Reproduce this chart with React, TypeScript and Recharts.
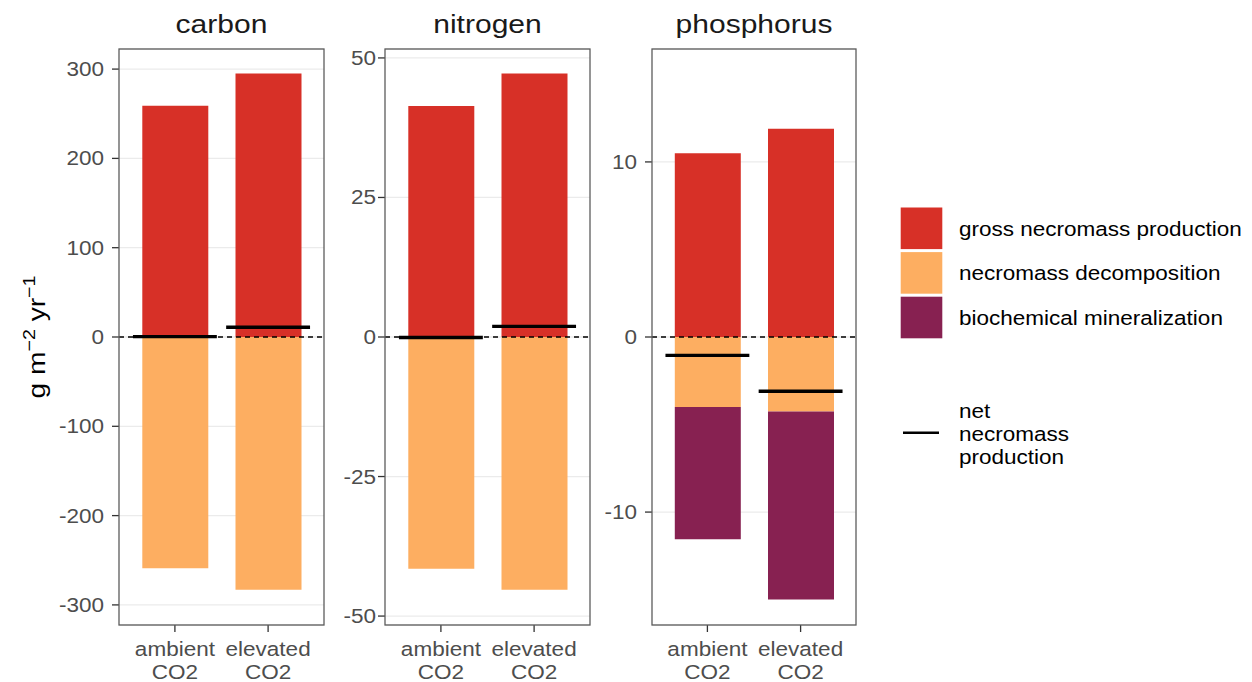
import { Bar, CartesianGrid, ComposedChart, ReferenceLine, Scatter, XAxis, YAxis } from 'recharts'

// values (g m-2 yr-1)
const conditions = ['ambient CO2', 'elevated CO2']
const elements = ['carbon', 'nitrogen', 'phosphorus']
const fluxNames = ['gross necromass production', 'necromass decomposition', 'biochemical mineralization']
const netLabel = ['net', 'necromass', 'production']

const carbonGross = [259, 295]
const carbonDecomposition = [-259, -283]
const carbonMineralization = [0, 0]
const carbonNet = [0.4, 11]

const nitrogenGross = [41.4, 47.2]
const nitrogenDecomposition = [-41.5, -45.3]
const nitrogenMineralization = [0, 0]
const nitrogenNet = [-0.1, 1.9]

const phosphorusGross = [10.5, 11.9]
const phosphorusDecomposition = [-4.0, -4.25]
const phosphorusMineralization = [-7.55, -10.75]
const phosphorusNet = [-1.05, -3.1]

const carbonTicks = [-300, -200, -100, 0, 100, 200, 300]
const nitrogenTicks = [-50, -25, 0, 25, 50]
const phosphorusTicks = [-10, 0, 10]
const carbonLimits = [-322.5, 322.5]
const nitrogenLimits = [-51.6, 51.6]
const phosphorusLimits = [-16.45, 16.45]

const fluxColors = ['#d73027', '#fdae61', '#872151']

const font = '"Liberation Sans", Arial, sans-serif'
const stretch = 1.155
const plotTop = 49
const plotHeight = 576
const axisWidth = 66
const band = 93.2

type Row = { condition: string; gross: number; decomposition: number; mineralization: number; net: number }

const toRows = (gross: number[], decomposition: number[], mineralization: number[], net: number[]): Row[] =>
  conditions.map((condition, i) => ({ condition, gross: gross[i], decomposition: decomposition[i], mineralization: mineralization[i], net: net[i] }))

const panels = [
  { name: elements[0], rows: toRows(carbonGross, carbonDecomposition, carbonMineralization, carbonNet), ticks: carbonTicks, limits: carbonLimits, left: 119, width: 205, gap: 8 },
  { name: elements[1], rows: toRows(nitrogenGross, nitrogenDecomposition, nitrogenMineralization, nitrogenNet), ticks: nitrogenTicks, limits: nitrogenLimits, left: 385, width: 205, gap: 2 },
  { name: elements[2], rows: toRows(phosphorusGross, phosphorusDecomposition, phosphorusMineralization, phosphorusNet), ticks: phosphorusTicks, limits: phosphorusLimits, left: 652, width: 204, gap: 8 },
]

function ValueTick({ x, y, payload }: { x?: number; y?: number; payload?: { value: number } }) {
  return <g transform={`translate(${x},${y}) scale(${stretch},1)`}>
    <text textAnchor="end" dy="0.36em" fill="#4d4d4d" fontSize={19.5} fontFamily={font}>{payload?.value}</text>
  </g>
}

function ConditionTick({ x, y, payload }: { x?: number; y?: number; payload?: { value: string } }) {
  const [first, second] = String(payload?.value ?? '').split(' ')
  return <g transform={`translate(${x},${y}) scale(${stretch},1)`}>
    <text textAnchor="middle" fill="#4d4d4d" fontSize={19.5} fontFamily={font}>
      <tspan x={0} y={22.5}>{first}</tspan>
      <tspan x={0} y={44.8}>{second}</tspan>
    </text>
  </g>
}

function NetMark({ cx, cy }: { cx?: number; cy?: number }) {
  if (cx == null || cy == null) return null
  const half = band * 0.45
  return <line x1={cx - half} x2={cx + half} y1={cy} y2={cy} stroke="#000" strokeWidth={3.4} />
}

function Panel({ rows, ticks, limits, left, width, gap }: typeof panels[number]) {
  const pad = (width - 2 * band) / 2
  return <div style={{ position: 'absolute', left: left - axisWidth, top: 0 }}>
    <ComposedChart width={axisWidth + width} height={682} data={rows} margin={{ top: plotTop, right: 0, bottom: 0, left: 0 }} stackOffset="sign">
      <CartesianGrid vertical={false} stroke="#ebebeb" strokeWidth={1.3} />
      <XAxis dataKey="condition" height={682 - plotTop - plotHeight} padding={{ left: pad, right: pad }} axisLine={false}
        tickSize={7} tickMargin={2} tickLine={{ stroke: '#333', strokeWidth: 1.3 }} tick={<ConditionTick />} interval={0} />
      <YAxis type="number" width={axisWidth} domain={limits} ticks={ticks} allowDataOverflow axisLine={false}
        tickSize={7} tickMargin={gap} tickLine={{ stroke: '#333', strokeWidth: 1.3 }} tick={<ValueTick />} />
      <Bar dataKey="gross" stackId="flux" fill={fluxColors[0]} barSize={66} isAnimationActive={false} />
      <Bar dataKey="decomposition" stackId="flux" fill={fluxColors[1]} barSize={66} isAnimationActive={false} />
      <Bar dataKey="mineralization" stackId="flux" fill={fluxColors[2]} barSize={66} isAnimationActive={false} />
      <ReferenceLine y={0} stroke="#000" strokeDasharray="5 4" strokeWidth={1.5} />
      <Scatter dataKey="net" shape={<NetMark />} isAnimationActive={false} />
    </ComposedChart>
  </div>
}

export default function App() {
  const legendY = [228.3, 272.9, 317.5]
  return <div style={{ position: 'absolute', left: 0, top: 0, width: 1252, height: 682, background: '#fff', fontFamily: font }}>
    {panels.map((panel) => <Panel key={panel.name} {...panel} />)}
    <svg width={1252} height={682} style={{ position: 'absolute', left: 0, top: 0, pointerEvents: 'none' }}>
      {panels.map((panel) => <g key={panel.name}>
        <rect x={panel.left} y={plotTop} width={panel.width} height={plotHeight} fill="none" stroke="#5c5c5c" strokeWidth={1.3} />
        <g transform={`translate(${panel.left + panel.width / 2},33) scale(${stretch},1)`}>
          <text textAnchor="middle" fontSize={26} fill="#1a1a1a" fontFamily={font}>{panel.name}</text>
        </g>
      </g>)}
      <g transform={`translate(45,337) rotate(-90) scale(${stretch},1)`}>
        <text textAnchor="middle" fontSize={24.4} fill="#000" fontFamily={font}>
          g m<tspan fontSize={17} dy={-10}>−2</tspan><tspan dy={10}> yr</tspan><tspan fontSize={17} dy={-10}>−1</tspan>
        </text>
      </g>
      {fluxNames.map((name, i) => <g key={name}>
        <rect x={900.7} y={legendY[i] - 20.8} width={41.6} height={41.6} fill={fluxColors[i]} />
        <g transform={`translate(959,${legendY[i] + 7.2}) scale(${stretch},1)`}>
          <text fontSize={19.5} fill="#000" fontFamily={font}>{name}</text>
        </g>
      </g>)}
      <line x1={903} x2={939} y1={432.7} y2={432.7} stroke="#000" strokeWidth={2.6} />
      {netLabel.map((word, i) => <g key={word} transform={`translate(959,${417.5 + i * 23}) scale(${stretch},1)`}>
        <text fontSize={19.5} fill="#000" fontFamily={font}>{word}</text>
      </g>)}
    </svg>
  </div>
}
